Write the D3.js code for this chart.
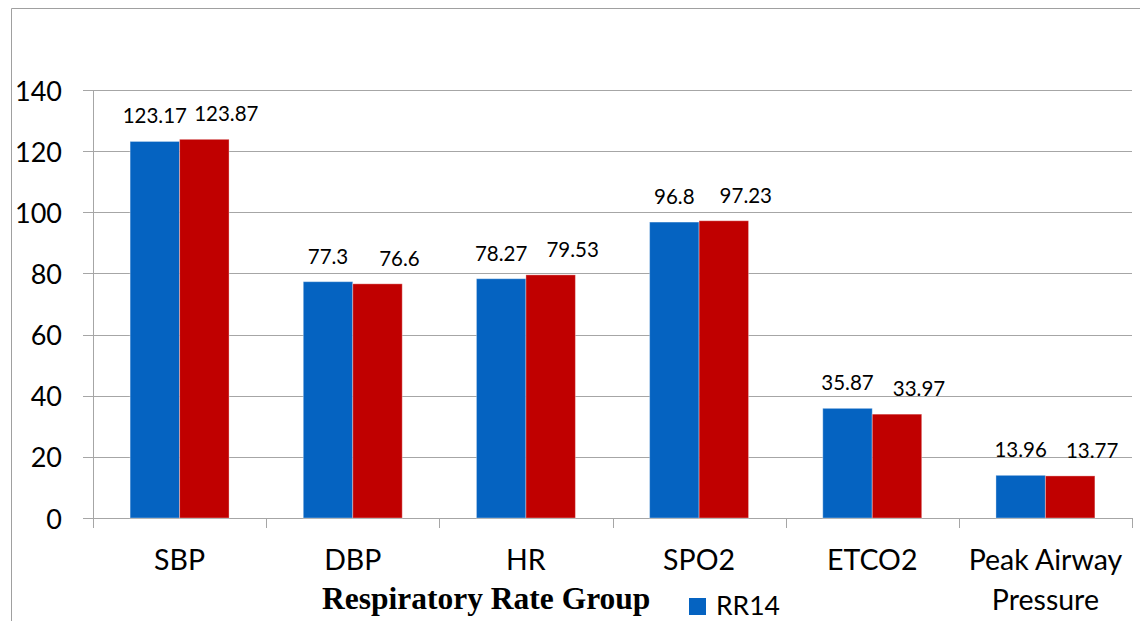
<!DOCTYPE html>
<html>
<head>
<meta charset="utf-8">
<script src="https://cdn.jsdelivr.net/npm/d3@7"></script>
<style>
  html, body { margin: 0; padding: 0; background: #fff; }
  svg { display: block; }
</style>
</head>
<body>
<svg id="chart" width="1140" height="621"></svg>
<script>
// Vital signs by respiratory rate group
const categories = ["SBP", "DBP", "HR", "SPO2", "ETCO2", "Peak Airway\nPressure"];
const seriesNames = ["RR14", "RR18"];
const rr14Values = [123.17, 77.3, 78.27, 96.8, 35.87, 13.96];
const rr18Values = [123.87, 76.6, 79.53, 97.23, 33.97, 13.77];
const yTicks = [0, 20, 40, 60, 80, 100, 120, 140];
const axisTitle = "Respiratory Rate Group";

const seriesValues = [rr14Values, rr18Values];
const colors = ["#0563C1", "#C00000"];
const sansFont = "Lato, 'Liberation Sans', sans-serif";

const svg = d3.select("#chart");

// Plot frame
const plot = { left: 93, right: 1132, top: 90, bottom: 518 };

// Outer chart border (open at right and bottom edges of the page)
svg.append("path")
  .attr("d", "M11.5,621 L11.5,8.5 L1140,8.5")
  .attr("fill", "none")
  .attr("stroke", "#a0a0a0")
  .attr("stroke-width", 1);

const y = d3.scaleLinear().domain([0, 140]).range([plot.bottom, plot.top]);

const x0 = d3.scaleBand().domain(categories).range([plot.left, plot.right]).padding(0);
const gap = 1.5 / 3.5; // gap width 150% of one bar
const x1 = d3.scaleBand()
  .domain(seriesNames)
  .range([x0.step() * gap / 2, x0.step() * (1 - gap / 2)])
  .padding(0);

// Gridlines and y tick labels
const yAxis = d3.axisLeft(y)
  .tickValues(yTicks)
  .tickSize(-(plot.right - (plot.left - 10)))
  .tickPadding(21)
  .tickFormat(d3.format("d"));

const gy = svg.append("g")
  .attr("transform", `translate(${plot.left - 10},0)`)
  .call(yAxis);
gy.select(".domain").remove();
gy.selectAll(".tick line")
  .attr("stroke", "#a6a6a6")
  .attr("stroke-width", 1)
  .attr("shape-rendering", "crispEdges");
gy.selectAll(".tick text")
  .attr("font-family", sansFont)
  .attr("font-size", 27)
  .attr("fill", "#000")
  .attr("dy", 10);

// Vertical value axis line
svg.append("line")
  .attr("x1", plot.left + 0.5).attr("x2", plot.left + 0.5)
  .attr("y1", y(140)).attr("y2", y(0))
  .attr("stroke", "#a6a6a6")
  .attr("shape-rendering", "crispEdges");

// Category boundary ticks on the x axis
const boundaries = categories.map(c => x0(c)).concat([x0(categories[categories.length - 1]) + x0.step()]);
svg.append("g").selectAll("line")
  .data(boundaries)
  .join("line")
  .attr("x1", d => Math.round(d) + 0.5)
  .attr("x2", d => Math.round(d) + 0.5)
  .attr("y1", y(0))
  .attr("y2", y(0) + 10)
  .attr("stroke", "#a6a6a6")
  .attr("shape-rendering", "crispEdges");

// Bars
const groups = svg.append("g").selectAll("g")
  .data(categories)
  .join("g")
  .attr("transform", c => `translate(${x0(c)},0)`);

groups.selectAll("rect")
  .data((c, i) => seriesNames.map((s, k) => ({ s, k, v: seriesValues[k][i] })))
  .join("rect")
  .attr("x", d => x1(d.s))
  .attr("width", x1.bandwidth())
  .attr("y", d => y(d.v))
  .attr("height", d => y(0) - y(d.v))
  .attr("fill", d => colors[d.k])
  .attr("stroke", "rgba(255,255,255,0.35)")
  .attr("stroke-width", 1);

// Value labels above the bars
groups.selectAll("text.value")
  .data((c, i) => seriesNames.map((s, k) => ({ s, k, v: seriesValues[k][i] })))
  .join("text")
  .attr("class", "value")
  .attr("x", d => x1(d.s) + x1.bandwidth() / 2 + (d.k === 1 ? 22 : 0))
  .attr("y", d => y(d.v) - 18)
  .attr("text-anchor", "middle")
  .attr("font-family", sansFont)
  .attr("font-size", 20.5)
  .attr("fill", "#000")
  .text(d => String(d.v));

// Category labels (multi-line where needed)
const catLabels = svg.append("g").selectAll("text")
  .data(categories)
  .join("text")
  .attr("x", c => x0(c) + x0.step() / 2)
  .attr("y", 570)
  .attr("text-anchor", "middle")
  .attr("font-family", sansFont)
  .attr("font-size", 28.5)
  .attr("fill", "#000");
catLabels.selectAll("tspan")
  .data(c => c.split("\n"))
  .join("tspan")
  .attr("x", function () { return d3.select(this.parentNode).attr("x"); })
  .attr("dy", (d, i) => i === 0 ? 0 : 40)
  .text(d => d);

// Axis title
svg.append("text")
  .attr("x", 322)
  .attr("y", 609)
  .attr("font-family", "'Liberation Serif', 'Times New Roman', serif")
  .attr("font-weight", "bold")
  .attr("font-size", 31.5)
  .attr("fill", "#000")
  .text(axisTitle);

// Legend (first entry)
const legend = svg.append("g").attr("transform", "translate(689,598)");
legend.append("rect")
  .attr("width", 17).attr("height", 17)
  .attr("fill", colors[0]);
legend.append("text")
  .attr("x", 27)
  .attr("y", 17)
  .attr("font-family", sansFont)
  .attr("font-size", 26.5)
  .attr("fill", "#000")
  .text(seriesNames[0]);
</script>
</body>
</html>
